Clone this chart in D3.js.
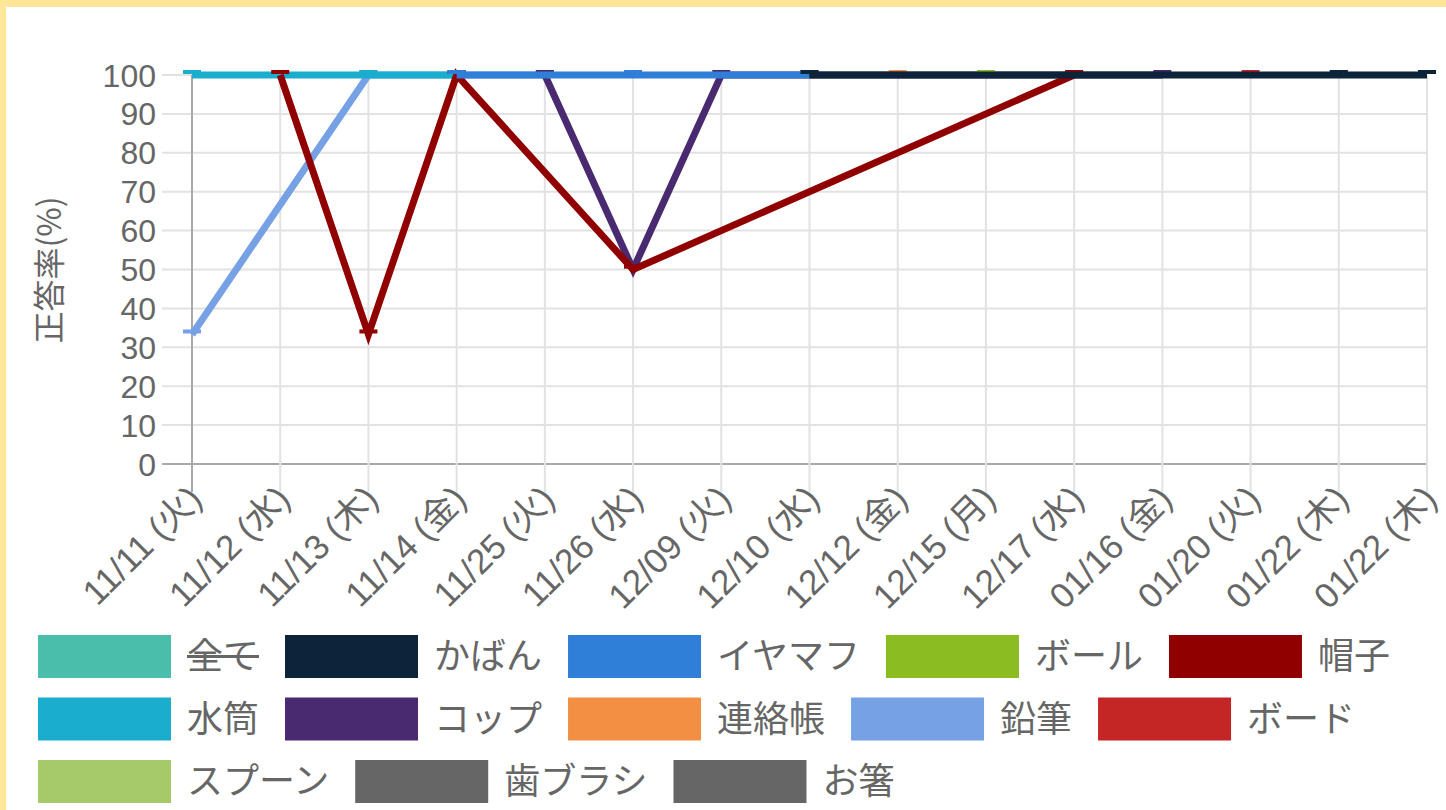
<!DOCTYPE html>
<html>
<head>
<meta charset="utf-8">
<script src="https://cdn.jsdelivr.net/npm/d3@7"></script>
<style>
  html, body { margin: 0; padding: 0; background: #ffe699; }
  #chart { position: absolute; left: 6px; top: 7px; width: 1440px; height: 803px; background: #fff; }
  svg { display: block; }
</style>
</head>
<body>
<div id="chart"></div>
<script>
// categories (x axis)
const dates = ["11/11 (火)", "11/12 (水)", "11/13 (木)", "11/14 (金)", "11/25 (火)", "11/26 (水)",
    "12/09 (火)", "12/10 (水)", "12/12 (金)", "12/15 (月)", "12/17 (水)", "01/16 (金)",
    "01/20 (火)", "01/22 (木)", "01/22 (木)"];

const yTicks = [0, 10, 20, 30, 40, 50, 60, 70, 80, 90, 100];

// series names / colours, legend order
const names = ["全て", "かばん", "イヤマフ", "ボール", "帽子", "水筒", "コップ", "連絡帳", "鉛筆", "ボード", "スプーン", "歯ブラシ", "お箸"];
const colors = ["#4bbeab", "#0d233a", "#2f7ed8", "#8bbc21", "#910000", "#1aadce", "#492970", "#f28f43", "#77a1e5", "#c42525", "#a6c96a", "#666666", "#666666"];
const hidden = [true, false, false, false, false, false, false, false, false, false, false, false, false];

// values per series (null = no test that day)
const N = null;
const allItems   = [33.3, 100, 66.7, 100, 100, 75, 100, 100, 100, 100, 100, 100, 100, 100, 100];
const bag        = [N, N, N, N, N, N, N, 100, N, N, N, N, N, 100, 100];
const earmuff    = [N, N, N, 100, N, 100, N, 100, N, N, N, N, N, N, N];
const ball       = [N, N, N, N, N, N, N, N, N, 100, N, N, N, N, N];
const hat        = [N, 100, 33.3, 100, N, 50, N, N, N, N, 100, N, N, N, N];
const bottle     = [100, N, 100, 100, N, N, N, N, N, N, N, N, N, N, N];
const cup        = [N, N, N, N, 100, 50, 100, N, N, N, N, 100, N, N, N];
const notebook   = [N, N, N, N, N, N, N, N, 100, N, N, N, N, N, N];
const pencil     = [33.3, N, 100, N, 100, N, N, N, N, N, N, N, N, N, N];
const board      = [N, N, N, N, N, N, N, N, N, N, N, N, 100, N, N];
const spoon      = [N, N, N, N, N, N, N, N, N, N, N, N, N, N, N];
const toothbrush = [N, N, N, N, N, N, N, N, N, N, N, N, N, 100, N];
const chopsticks = [N, N, N, N, N, N, N, N, N, N, N, N, N, N, 100];

const seriesValues = [allItems, bag, earmuff, ball, hat, bottle, cup, notebook, pencil, board, spoon, toothbrush, chopsticks];

const width = 1440, height = 803;
const ox = 6, oy = 7; // panel offset in the page

let svg = d3.select("#chart")
    .append("svg")
    .attr("width", width)
    .attr("height", height)
    .append("g")
    .attr("transform", `translate(${-ox}, ${-oy})`);

const latin = "'Liberation Sans', 'Noto Sans CJK JP', sans-serif";
const cjk = "'Noto Sans CJK JP', sans-serif";
const textColor = "#666";

let x = d3.scalePoint()
    .domain(d3.range(dates.length))
    .range([192, 1427]);

let y = d3.scaleLinear()
    .domain([0, 100])
    .range([464, 75]);

// horizontal grid lines (with tick marks sticking out left)
svg.append("g")
    .selectAll("line")
    .data(yTicks)
    .enter()
    .append("line")
    .attr("x1", 162)
    .attr("x2", 1427)
    .attr("y1", d => y(d))
    .attr("y2", d => y(d))
    .style("stroke", d => d === 0 ? "#a8a8a8" : "#e2e2e2")
    .style("stroke-width", 2);

// vertical grid lines (with tick marks below the axis)
svg.append("g")
    .selectAll("line")
    .data(d3.range(dates.length))
    .enter()
    .append("line")
    .attr("x1", d => x(d))
    .attr("x2", d => x(d))
    .attr("y1", 75)
    .attr("y2", 492)
    .style("stroke", d => d === 0 ? "#a8a8a8" : "#e2e2e2")
    .style("stroke-width", 2);

// y tick labels
svg.append("g")
    .selectAll("text")
    .data(yTicks)
    .enter()
    .append("text")
    .attr("x", 156)
    .attr("y", d => y(d))
    .attr("dy", "0.36em")
    .attr("text-anchor", "end")
    .style("font-family", latin)
    .style("font-size", "32px")
    .style("fill", textColor)
    .text(d => d);

// y axis title
svg.append("text")
    .attr("transform", "translate(61, 270) rotate(-90)")
    .attr("text-anchor", "middle")
    .style("font-family", cjk)
    .style("font-size", "32px")
    .style("fill", textColor)
    .text("正答率(%)");

// x tick labels, rotated
svg.append("g")
    .selectAll("text")
    .data(dates)
    .enter()
    .append("text")
    .attr("transform", (d, i) => `translate(${x(i) + 3}, ${492}) rotate(-45)`)
    .attr("text-anchor", "end")
    .attr("dy", "0.35em")
    .style("font-family", latin)
    .style("font-size", "35px")
    .style("fill", textColor)
    .text(d => d);

// lines - first series ends up on top, so draw in reverse
let line = d3.line()
    .defined(d => d.v !== null)
    .x(d => x(d.i))
    .y(d => y(d.v));

let plot = svg.append("g");
for (let s = names.length - 1; s >= 0; s--) {
    if (hidden[s]) continue;
    const pts = seriesValues[s].map((v, i) => ({i: i, v: v})).filter(d => d.v !== null);
    if (pts.length === 0) continue;
    plot.append("path")
        .datum(pts)
        .attr("d", line)
        .style("fill", "none")
        .style("stroke", colors[s])
        .style("stroke-width", 7)
        .style("stroke-linejoin", "miter");
    // dash-style point markers
    plot.append("g")
        .selectAll("rect")
        .data(pts)
        .enter()
        .append("rect")
        .attr("x", d => x(d.i) - 9)
        .attr("y", d => y(d.v) - 5)
        .attr("width", 18)
        .attr("height", 4)
        .style("fill", colors[s]);
}

// legend, left aligned, wrapping rows
let legend = svg.append("g");
const boxW = 133, boxH = 43, rowStep = 62.5;
let lx = 38, ly = 635;
names.forEach(function (name, s) {
    let item = legend.append("g");
    let label = item.append("text")
        .attr("y", boxH / 2)
        .attr("dy", "0.36em")
        .style("font-family", cjk)
        .style("font-size", "36px")
        .style("fill", textColor)
        .text(name);
    const tw = label.node().getComputedTextLength();
    if (lx + boxW + 16 + tw > 1440) {
        lx = 38;
        ly += rowStep;
    }
    item.attr("transform", `translate(${lx}, ${ly})`);
    item.insert("rect", "text")
        .attr("width", boxW)
        .attr("height", boxH)
        .style("fill", colors[s]);
    label.attr("x", boxW + 16);
    if (hidden[s]) {
        item.append("line")
            .attr("x1", boxW + 16)
            .attr("x2", boxW + 16 + tw)
            .attr("y1", boxH / 2)
            .attr("y2", boxH / 2)
            .style("stroke", textColor)
            .style("stroke-width", 3);
    }
    lx += boxW + 16 + tw + 26;
});
</script>
</body>
</html>
